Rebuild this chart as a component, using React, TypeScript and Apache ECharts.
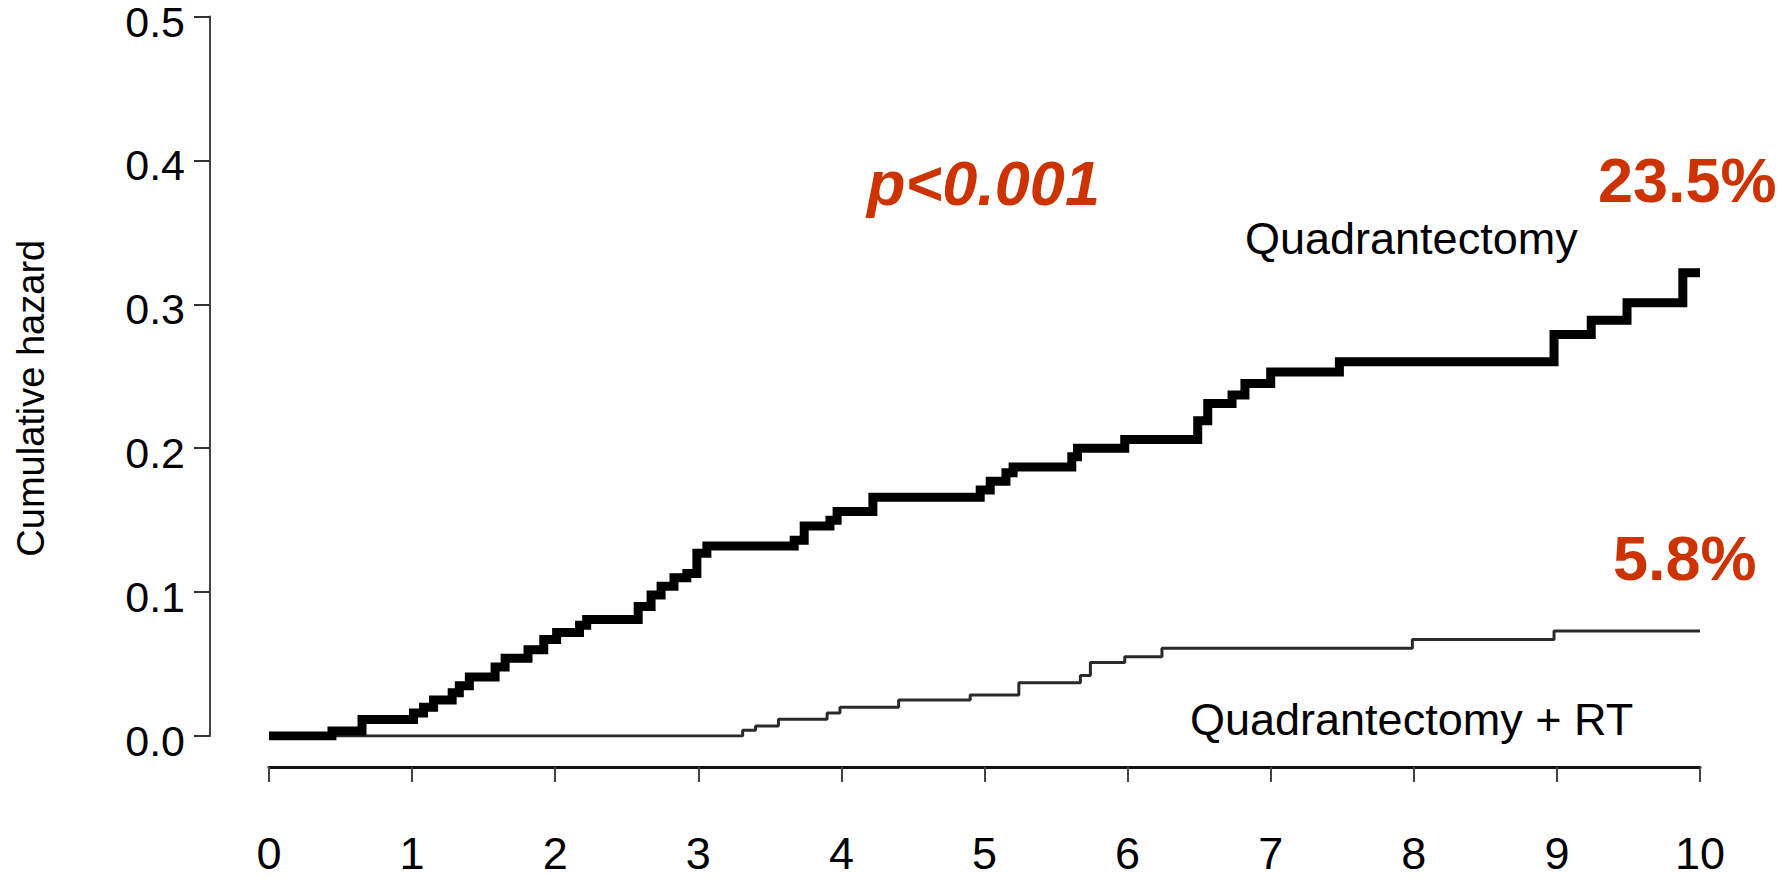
import React, { useEffect, useRef } from 'react';
import * as echarts from 'echarts';

// Quadrantectomy (thick curve): time in years, cumulative hazard from that time on
const quadTimes = [0, 0.44, 0.65, 1.01, 1.08, 1.15, 1.28, 1.33, 1.40, 1.58, 1.65, 1.81, 1.92, 2.01, 2.17, 2.22, 2.58, 2.67, 2.74, 2.83, 2.92, 2.99, 3.06, 3.67, 3.74, 3.92, 3.97, 4.22, 4.97, 5.04, 5.15, 5.20, 5.61, 5.65, 5.98, 6.49, 6.56, 6.73, 6.82, 7.00, 7.48, 8.98, 9.24, 9.49, 9.88, 10.0];
const quadHazard = [0, 0.0035, 0.0114, 0.016, 0.020, 0.025, 0.030, 0.035, 0.041, 0.048, 0.054, 0.060, 0.067, 0.072, 0.077, 0.081, 0.090, 0.098, 0.104, 0.110, 0.113, 0.127, 0.132, 0.136, 0.146, 0.150, 0.156, 0.166, 0.171, 0.177, 0.183, 0.187, 0.194, 0.200, 0.206, 0.219, 0.231, 0.237, 0.245, 0.253, 0.260, 0.279, 0.289, 0.301, 0.322, 0.322];

// Quadrantectomy + RT (thin curve)
const rtTimes = [0, 3.31, 3.40, 3.56, 3.90, 3.99, 4.40, 4.90, 5.24, 5.67, 5.74, 5.98, 6.24, 7.99, 8.98, 10.0];
const rtHazard = [0, 0.004, 0.007, 0.0116, 0.016, 0.020, 0.025, 0.0285, 0.037, 0.042, 0.051, 0.055, 0.061, 0.067, 0.073, 0.073];

const seriesNames = ['Quadrantectomy', 'Quadrantectomy + RT'];
const yAxisTitle = 'Cumulative hazard';
const pValueText = 'p<0.001';
const endLabels = ['23.5%', '5.8%'];

const FONT = '"Liberation Sans", Arial, Helvetica, sans-serif';
const RED = '#cc3300';

export default function App() {
  const ref = useRef<HTMLDivElement>(null);

  useEffect(() => {
    if (!ref.current) return;
    const chart = echarts.init(ref.current, undefined, { renderer: 'svg' });
    const quadData = quadTimes.map((t, i) => [t, quadHazard[i]]);
    const rtData = rtTimes.map((t, i) => [t, rtHazard[i]]);

    chart.setOption({
      animation: false,
      backgroundColor: '#ffffff',
      grid: { left: 269, right: 81, top: 16, bottom: 142, containLabel: false },
      xAxis: {
        type: 'value',
        min: 0,
        max: 10,
        interval: 1,
        offset: 31,
        axisLine: { show: true, onZero: false, lineStyle: { color: '#111', width: 3 } },
        axisTick: { show: true, length: 15, lineStyle: { color: '#444', width: 2 } },
        axisLabel: { margin: 64, fontSize: 45, color: '#000', fontFamily: FONT },
        splitLine: { show: false },
      },
      yAxis: {
        type: 'value',
        min: 0,
        max: 0.5,
        interval: 0.1,
        offset: 59,
        name: yAxisTitle,
        nameLocation: 'middle',
        nameGap: 160,
        nameTextStyle: { fontSize: 38, color: '#000', fontFamily: FONT, padding: [0, 44, 0, 0] },
        axisLine: { show: true, onZero: false, lineStyle: { color: '#444', width: 2 } },
        axisTick: { show: true, length: 16, lineStyle: { color: '#333', width: 2 } },
        axisLabel: {
          margin: 25,
          fontSize: 43,
          color: '#000',
          fontFamily: FONT,
          verticalAlign: 'top',
          lineHeight: 10,
          formatter: (v: number) => v.toFixed(1),
        },
        splitLine: { show: false },
      },
      series: [
        {
          name: seriesNames[1],
          type: 'line',
          step: 'end',
          data: rtData,
          showSymbol: false,
          symbol: 'none',
          lineStyle: { color: '#2a2a2a', width: 3 },
          z: 2,
        },
        {
          name: seriesNames[0],
          type: 'line',
          step: 'end',
          data: quadData,
          showSymbol: false,
          symbol: 'none',
          lineStyle: { color: '#000', width: 9, join: 'miter' },
          z: 3,
        },
      ],
      graphic: [
        {
          type: 'text',
          x: 867,
          y: 182.5,
          style: {
            text: pValueText,
            fontSize: 63,
            fontWeight: 'bold',
            fontStyle: 'italic',
            fontFamily: FONT,
            fill: RED,
            align: 'left',
            verticalAlign: 'middle',
          },
        },
        {
          type: 'text',
          x: 1598,
          y: 180,
          style: {
            text: endLabels[0],
            fontSize: 63,
            fontWeight: 'bold',
            fontFamily: FONT,
            fill: RED,
            align: 'left',
            verticalAlign: 'middle',
          },
        },
        {
          type: 'text',
          x: 1613,
          y: 557.5,
          style: {
            text: endLabels[1],
            fontSize: 63,
            fontWeight: 'bold',
            fontFamily: FONT,
            fill: RED,
            align: 'left',
            verticalAlign: 'middle',
          },
        },
        {
          type: 'text',
          x: 1245,
          y: 238,
          style: {
            text: seriesNames[0],
            fontSize: 45,
            fontFamily: FONT,
            fill: '#000',
            align: 'left',
            verticalAlign: 'middle',
          },
        },
        {
          type: 'text',
          x: 1190,
          y: 719,
          style: {
            text: seriesNames[1],
            fontSize: 45,
            fontFamily: FONT,
            fill: '#000',
            align: 'left',
            verticalAlign: 'middle',
          },
        },
      ],
    });

    return () => chart.dispose();
  }, []);

  return (
    <div
      ref={ref}
      style={{ position: 'fixed', left: 0, top: 0, width: 1781, height: 878, background: '#fff' }}
    />
  );
}
